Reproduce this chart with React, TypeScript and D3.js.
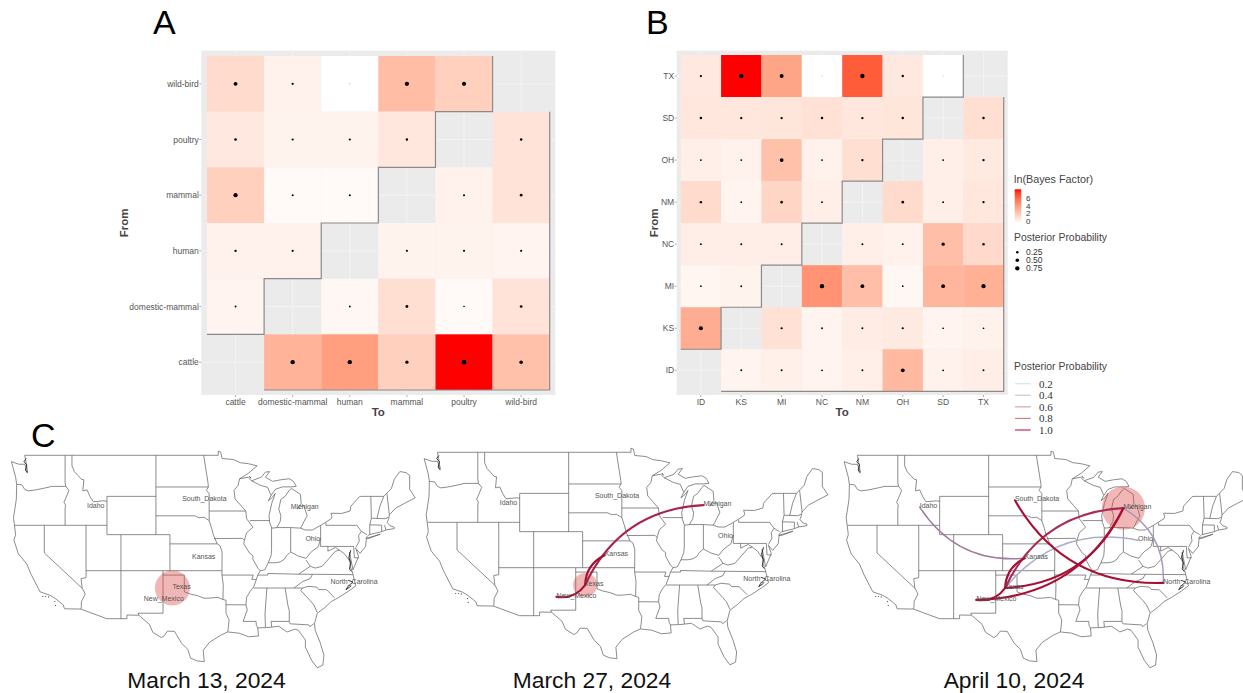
import React from 'react';
import * as d3 from 'd3';

// panel A
const hostLabels = ['cattle', 'domestic-mammal', 'human', 'mammal', 'poultry', 'wild-bird'];
const hostRows = ['wild-bird', 'poultry', 'mammal', 'human', 'domestic-mammal', 'cattle'];
const hostBF = [
  [1.33, 0.5, 0, 2.45, 1.75, null],
  [0.85, 0.45, 0.45, 0.9, null, 1.05],
  [1.75, 0.2, 0.2, null, 0.5, 1.05],
  [0.5, 0.5, null, 0.45, 0.45, 0.4],
  [0.4, null, 0.3, 1.2, 0.2, 1.05],
  [null, 2.8, 3.5, 1.75, 7, 2.3],
];
const hostProb = [
  [0.6, 0.2, 0.02, 0.75, 0.68, null],
  [0.27, 0.2, 0.2, 0.22, null, 0.25],
  [0.72, 0.16, 0.16, null, 0.17, 0.3],
  [0.22, 0.2, null, 0.18, 0.18, 0.18],
  [0.14, null, 0.13, 0.32, 0.1, 0.3],
  [null, 0.75, 0.75, 0.42, 0.9, 0.5],
];

// panel B
const stateLabels = ['ID', 'KS', 'MI', 'NC', 'NM', 'OH', 'SD', 'TX'];
const stateRows = ['TX', 'SD', 'OH', 'NM', 'NC', 'MI', 'KS', 'ID'];
const stateBF = [
  [0.85, 7, 3.3, 0, 5.6, 0.85, 0, null],
  [0.9, 0.9, 0.95, 1.1, 0.9, 0.95, null, 1.2],
  [0.6, 0.5, 2.3, 0.5, 1.2, null, 0.6, 0.8],
  [1.35, 0.4, 1.55, 0.6, null, 1.35, 0.6, 0.9],
  [0.65, 0.65, 0.65, null, 0.6, 0.5, 2.4, 1.4],
  [0.35, 0.45, null, 3.9, 2.4, 0.3, 2.7, 2.9],
  [3, null, 1.1, 0.4, 0.7, 0.8, 0.4, 0.5],
  [null, 0.4, 0.55, 0.4, 0.6, 2.6, 0.5, 0.65],
];
const stateProb = [
  [0.2, 0.8, 0.62, 0.02, 0.75, 0.22, 0.02, null],
  [0.24, 0.22, 0.22, 0.24, 0.22, 0.24, null, 0.24],
  [0.14, 0.14, 0.58, 0.14, 0.22, null, 0.14, 0.22],
  [0.24, 0.12, 0.26, 0.14, null, 0.28, 0.14, 0.2],
  [0.14, 0.15, 0.15, null, 0.15, 0.14, 0.42, 0.24],
  [0.12, 0.14, null, 0.75, 0.58, 0.12, 0.58, 0.72],
  [0.68, null, 0.2, 0.13, 0.15, 0.2, 0.12, 0.12],
  [null, 0.15, 0.16, 0.13, 0.15, 0.58, 0.13, 0.14],
];

// legends
const bfTicks = [0, 2, 4, 6];
const probTicks = [0.25, 0.5, 0.75];
const lineTicks = [0.2, 0.4, 0.6, 0.8, 1.0];

// panel C: lon/lat of the state label points
const places = {
  Idaho: [-113.9, 43.9],
  South_Dakota: [-100.3, 44.6],
  Michigan: [-84.8, 43.8],
  Ohio: [-82.7, 40.4],
  Kansas: [-98.9, 38.4],
  Texas: [-101.7, 35.0],
  New_Mexico: [-105.8, 33.6],
  North_Carolina: [-79.1, 35.6],
};
const dates = ['March 13, 2024', 'March 27, 2024', 'April 10, 2024'];
const hotspots = [
  { state: 'Texas', size: 34 },
  { state: 'Texas', size: 16 },
  { state: 'Michigan', size: 52 },
];
const edges = [
  [],
  [['Michigan', 'Texas', 0.9], ['Kansas', 'Texas', 1], ['New_Mexico', 'Texas', 1]],
  [
    ['Idaho', 'Kansas', 0.6],
    ['Ohio', 'Texas', 0.4],
    ['North_Carolina', 'Michigan', 0.5],
    ['Michigan', 'Texas', 0.85],
    ['South_Dakota', 'North_Carolina', 1],
    ['New_Mexico', 'Michigan', 1],
    ['Texas', 'Michigan', 1],
    ['New_Mexico', 'Texas', 1],
    ['Kansas', 'Texas', 1],
  ],
];

// outline and state lines, lon/lat
const usOutline = [
  [-124.7, 48.4], [-123.6, 48.15], [-122.8, 48.15], [-122.4, 47.4], [-122.6, 48.3], [-122.8, 49], [-95.15, 49], [-95.15, 49.38],
  [-94.8, 49.3], [-94.6, 48.7], [-93, 48.6], [-92, 48.3], [-90.8, 48.2], [-89.6, 48], [-90.8, 47.3], [-92.1, 46.75],
  [-90.9, 46.9], [-90.4, 46.55], [-89, 46.9], [-88.4, 47.4], [-87.8, 47.45], [-88.4, 46.9], [-87.4, 46.5], [-86.2, 46.65],
  [-85, 46.75], [-84.4, 46.5], [-84, 46], [-84.7, 45.95], [-86, 45.95], [-87, 45.7], [-87.6, 45.1], [-88, 44.55],
  [-87.4, 44.9], [-87, 45.3], [-87.5, 44.3], [-87.9, 43], [-87.8, 42.3], [-87.5, 41.7], [-86.8, 41.75], [-86.3, 42.4],
  [-86.2, 43], [-86.5, 43.7], [-86.2, 44.7], [-85.6, 45], [-85, 45.6], [-84.7, 45.8], [-83.4, 45.2], [-83.3, 44.3],
  [-83.9, 43.7], [-83.4, 43.95], [-82.9, 44.05], [-82.45, 43], [-82.9, 42.4], [-83.15, 42], [-83.4, 41.7], [-82.7, 41.5],
  [-81.7, 41.5], [-80.5, 42], [-79, 42.7], [-78.9, 42.9], [-79.05, 43.27], [-77.5, 43.25], [-76.3, 43.5], [-76.2, 44],
  [-75, 44.95], [-74.7, 45], [-71.5, 45], [-71.1, 45.3], [-70.4, 45.8], [-70, 46.7], [-69.2, 47.45], [-68.3, 47.35],
  [-67.8, 47.07], [-67.8, 45.7], [-67, 44.85], [-68.5, 44.3], [-69.8, 43.8], [-70.7, 43.1], [-70.8, 42.7], [-71, 42.3],
  [-70.6, 41.95], [-70, 41.8], [-70, 41.65], [-71.2, 41.5], [-71.9, 41.3], [-73.6, 41], [-74, 40.7], [-74, 40.4],
  [-74.1, 39.7], [-74.9, 38.95], [-75.5, 39.5], [-75.1, 38.6], [-75.9, 37.1], [-76.4, 39.1], [-76.3, 37.5], [-76, 36.9],
  [-75.5, 35.25], [-76.5, 34.65], [-77.9, 33.9], [-79, 33.4], [-79.9, 32.7], [-81, 32], [-81.4, 30.7], [-81.3, 29.9],
  [-80.6, 28.4], [-80.05, 26.8], [-80.2, 25.5], [-81, 25.15], [-81.8, 26.1], [-82.7, 27.8], [-82.7, 28.7], [-83.7, 29.9],
  [-84.2, 30.05], [-85.3, 29.7], [-86.5, 30.4], [-88, 30.25], [-89.5, 30.2], [-89.4, 29.2], [-90.8, 29.1], [-92.2, 29.55],
  [-93.8, 29.7], [-94.8, 29.3], [-96.4, 28.4], [-97.3, 27.4], [-97.15, 25.95], [-98.2, 26.05], [-99.1, 26.4], [-99.5, 27.5],
  [-100.4, 28.3], [-101.4, 29.77], [-102.4, 29.8], [-102.9, 29.2], [-103.3, 29], [-104.5, 29.65], [-105, 30.65], [-106.5, 31.75],
  [-108.2, 31.78], [-108.2, 31.33], [-111.07, 31.33], [-114.8, 32.5], [-117.12, 32.53], [-117.3, 33], [-118.4, 33.75], [-119.2, 34.15],
  [-120.6, 34.55], [-121.9, 36.6], [-122.5, 37.75], [-123.7, 38.9], [-124.35, 40.4], [-124.1, 41], [-124.4, 42.8], [-124, 44.7],
  [-123.95, 46.2], [-124.1, 46.9], [-124.7, 48.4],
];
const stateLines = [
  [[-123.95, 46.2], [-123.2, 46.15], [-122.8, 45.7], [-122.3, 45.55], [-121.2, 45.65], [-119.3, 45.93], [-119, 46], [-116.92, 46]],
  [[-117.03, 49], [-117.03, 46.4], [-116.92, 46], [-116.48, 45.6], [-116.85, 44.95], [-117.2, 44.4], [-116.95, 44.1], [-117.03, 43.8], [-117.03, 42]],
  [[-124.2, 42], [-111.05, 42]],
  [[-116.05, 49], [-116.05, 48], [-115.7, 47.45], [-114.7, 46.7], [-114.35, 46.65], [-114.5, 45.55], [-113.9, 45.65], [-113.45, 44.95], [-113, 44.45], [-111.5, 44.55], [-111.05, 44.5]],
  [[-111.05, 45], [-104.05, 45]],
  [[-111.05, 45], [-111.05, 41], [-102.05, 41], [-102.05, 37]],
  [[-104.05, 49], [-104.05, 41]],
  [[-104.05, 45.94], [-96.56, 45.94]],
  [[-104.05, 43], [-98.5, 43], [-97.9, 42.8], [-97.2, 42.85], [-96.45, 42.5]],
  [[-102.05, 40], [-95.3, 40]],
  [[-114.04, 42], [-114.04, 36.2], [-114.75, 36.1], [-114.6, 35], [-114.15, 34.3], [-114.7, 33.4], [-114.72, 32.72], [-114.8, 32.5]],
  [[-109.05, 41], [-109.05, 31.33]],
  [[-114.04, 37], [-94.62, 37]],
  [[-103.04, 37], [-103.04, 32], [-106.6, 32], [-106.5, 31.75]],
  [[-103.04, 36.5], [-100, 36.5], [-100, 34.56], [-99.2, 34.3], [-98.1, 34.1], [-97.2, 33.8], [-96.5, 33.8], [-95.2, 33.9], [-94.48, 33.64]],
  [[-120, 42], [-120, 39], [-114.63, 35]],
  [[-95.3, 40], [-94.9, 39.8], [-94.6, 39.1], [-94.62, 36.5], [-94.43, 35.4], [-94.48, 33.64], [-94.04, 33.55], [-94.04, 32], [-93.6, 31.2], [-93.7, 30.3], [-93.8, 29.7]],
  [[-96.45, 42.5], [-96.1, 41.7], [-95.85, 41], [-95.3, 40]],
  [[-95.77, 40.58], [-91.7, 40.6], [-91.42, 40.38]],
  [[-97.23, 49], [-96.6, 46.3], [-96.56, 45.94], [-96.85, 45.6], [-96.45, 45.3], [-96.45, 42.5]],
  [[-96.45, 43.5], [-91.22, 43.5]],
  [[-92.1, 46.75], [-92.3, 46.1], [-92.9, 45.6], [-92.75, 44.75], [-91.22, 43.5], [-91.1, 42.7], [-90.2, 41.8], [-91.1, 41.2], [-91.42, 40.38], [-91.5, 40], [-90.7, 39], [-90.2, 38.7], [-90.2, 38.3], [-89.5, 37.3], [-89.15, 37], [-89.5, 36.5], [-89.7, 36], [-90.1, 35.1], [-90.6, 34.6], [-91.1, 33.9], [-91.2, 33], [-91, 32.4], [-91.6, 31], [-89.75, 31], [-89.7, 30.5], [-89.5, 30.2]],
  [[-94.04, 33.02], [-91.2, 33]],
  [[-94.62, 36.5], [-90.15, 36.5], [-90.35, 36], [-89.7, 36]],
  [[-90.64, 42.5], [-87.8, 42.5]],
  [[-87.53, 41.7], [-87.53, 39.35], [-87.6, 38.7], [-88, 37.9]],
  [[-89.15, 37], [-88.5, 37.1], [-88, 37.9], [-87, 37.9], [-86.3, 38], [-85.7, 38.3], [-85.4, 38.7], [-84.8, 39.1], [-84.3, 38.9], [-83.7, 38.65], [-82.6, 38.4], [-82, 39], [-81.7, 39.2], [-80.85, 39.7], [-80.52, 40.64], [-80.52, 42]],
  [[-84.8, 39.1], [-84.8, 41.76]],
  [[-86.8, 41.76], [-84.8, 41.76], [-83.4, 41.7]],
  [[-79.76, 42.27], [-79.76, 42], [-75.35, 42], [-74.7, 41.36], [-75.1, 40.9], [-75, 40.3], [-75.5, 39.6]],
  [[-80.52, 40.64], [-80.52, 39.72], [-75.8, 39.72], [-75.7, 38.46], [-75.05, 38.45]],
  [[-90.4, 46.55], [-89.1, 46.1], [-88.1, 45.9], [-87.6, 45.1]],
  [[-89.5, 36.5], [-88.07, 36.5], [-88.07, 36.68], [-83.68, 36.6], [-81.68, 36.59], [-75.9, 36.55]],
  [[-83.68, 36.6], [-82, 37.5], [-82.6, 38.2]],
  [[-82, 37.5], [-81.3, 37.3], [-80.3, 37.5], [-79.3, 38.4], [-78.4, 39.2], [-77.8, 39.3], [-77.05, 38.85], [-76.3, 38]],
  [[-79.48, 39.72], [-79.48, 39.2], [-78.4, 39.6], [-77.8, 39.3]],
  [[-74.7, 41.36], [-73.9, 41]],
  [[-73.5, 41], [-73.5, 42.05], [-73.27, 42.75], [-73.35, 45]],
  [[-73.5, 42.05], [-71.8, 42.02], [-71.8, 41.35]],
  [[-71.38, 42.02], [-71.2, 41.5]],
  [[-73.27, 42.75], [-71.3, 42.7], [-70.8, 42.85]],
  [[-72.46, 42.73], [-72.05, 44], [-71.5, 45]],
  [[-70.7, 43.1], [-71.05, 45.3]],
  [[-90.1, 35], [-83.1, 35]],
  [[-81.68, 36.59], [-82, 36.1], [-83.1, 35.75], [-84.32, 34.99]],
  [[-83.1, 35], [-82.3, 35.2], [-81.05, 35.1], [-80.8, 34.82], [-79.67, 34.8], [-78.55, 33.85]],
  [[-83.1, 35], [-83.35, 34.7], [-82, 33.5], [-81.5, 33], [-81, 32.1]],
  [[-85.6, 35], [-85.18, 32.87], [-85, 32.3], [-85, 31], [-84.86, 30.7], [-82.2, 30.57], [-82.05, 30.35], [-81.5, 30.73]],
  [[-85, 31], [-87.6, 31], [-87.5, 30.3]],
  [[-88.2, 35], [-88.47, 31.9], [-88.4, 30.3]],
  [[-74, 40.6], [-72, 41.05], [-73.6, 40.6], [-74, 40.6]],
];
// the darker, busy bits of coast
const coastDetail = [
  [[-122.6, 48.7], [-122.9, 48.4], [-122.5, 48.1], [-122.7, 47.6], [-122.4, 47.3]],
  [[-76.2, 39.3], [-76.5, 38.5], [-76.2, 37.9], [-76.4, 37.2], [-76.1, 36.9]],
  [[-76.6, 35.9], [-75.9, 35.7], [-76.6, 35.2], [-76.9, 34.8], [-76.2, 35.2]],
  [[-90.7, 47], [-90.5, 46.8]],
];
const islands = [[-119.8, 34], [-118.5, 33.4], [-118.4, 32.95], [-120.2, 34], [-119.4, 33.95]];

// layout
const tile = d3.interpolateLab('#ffffff', '#ff0000');
const fillScale = d3.scaleSequential(tile).domain([0, 7]);
const sizeScale = d3.scaleSqrt().domain([0, 1]).range([0, 2.5]);
const bubbleScale = d3.scaleSqrt().domain([0, 100]).range([0, 30]);
const lineColor = d3.scaleLinear<string>()
  .domain([0.2, 0.4, 0.6, 0.8, 1.0])
  .range(['#cfe6f0', '#aeaccb', '#a07f9e', '#a83560', '#a90f35']);
const legendLine = d3.scaleLinear<string>()
  .domain([0.2, 0.4, 0.6, 0.8, 1.0])
  .range(['#cfe8f2', '#c9c6d8', '#d2a6b6', '#d67a93', '#cc2f50']);
const dateX = d3.scaleOrdinal<string, number>().domain(dates).range([206.5, 592, 1014]);
const sans = '"Liberation Sans", Arial, sans-serif';

function Heatmap({ cols, rows, bf, prob, panel, xRange, yRange, fromX }) {
  const x = d3.scaleBand().domain(cols).range(xRange);
  const y = d3.scaleBand().domain(rows).range(yRange);
  const bw = x.bandwidth();
  const bh = y.bandwidth();
  const n = cols.length;

  // stair-step frame round the empty diagonal
  const upper = d3.path();
  rows.slice(0, n - 1).forEach((r, i) => {
    const c = n - 1 - i;
    if (i === 0) upper.moveTo(x(cols[c]), y(r));
    upper.lineTo(x(cols[c]), y(r) + bh);
    upper.lineTo(x(cols[c - 1]), y(r) + bh);
  });
  const lower = d3.path();
  lower.moveTo(x(cols[1]), y(rows[n - 1]) + bh);
  lower.lineTo(xRange[1], y(rows[n - 1]) + bh);
  lower.lineTo(xRange[1], y(rows[1]));

  const midX = (panel[0] + panel[2]) / 2;
  const midY = (panel[1] + panel[3]) / 2;

  return (
    <g fontFamily={sans}>
      <rect x={panel[0]} y={panel[1]} width={panel[2] - panel[0]} height={panel[3] - panel[1]} fill="#ebebeb" />
      {cols.map(c => (
        <line key={c} x1={x(c) + bw / 2} x2={x(c) + bw / 2} y1={panel[1]} y2={panel[3]} stroke="#f6f6f6" strokeWidth={0.7} />
      ))}
      {rows.map(r => (
        <line key={r} x1={panel[0]} x2={panel[2]} y1={y(r) + bh / 2} y2={y(r) + bh / 2} stroke="#f6f6f6" strokeWidth={0.7} />
      ))}
      {rows.map((r, i) => cols.map((c, j) => bf[i][j] === null ? null : (
        <rect key={r + c} x={x(c)} y={y(r)} width={bw} height={bh} fill={fillScale(bf[i][j])} />
      )))}
      <path d={upper.toString()} fill="none" stroke="#8a8a8a" strokeWidth={1.2} />
      <path d={lower.toString()} fill="none" stroke="#8a8a8a" strokeWidth={1.2} />
      {rows.map((r, i) => cols.map((c, j) => prob[i][j] === null ? null : (
        <circle key={r + c} cx={x(c) + bw / 2} cy={y(r) + bh / 2} r={sizeScale(prob[i][j])} fill="#000" />
      )))}
      {cols.map(c => (
        <g key={c}>
          <line x1={x(c) + bw / 2} x2={x(c) + bw / 2} y1={panel[3]} y2={panel[3] + 2} stroke="#777" strokeWidth={0.6} />
          <text x={x(c) + bw / 2} y={panel[3] + 9.5} textAnchor="middle" fontSize={8.5} fill="#555">{c}</text>
        </g>
      ))}
      {rows.map(r => (
        <g key={r}>
          <line x1={panel[0] - 2} x2={panel[0]} y1={y(r) + bh / 2} y2={y(r) + bh / 2} stroke="#777" strokeWidth={0.6} />
          <text x={panel[0] - 2.5} y={y(r) + bh / 2 + 3} textAnchor="end" fontSize={8.5} fill="#555">{r}</text>
        </g>
      ))}
      <text x={midX} y={415.5} textAnchor="middle" fontSize={11.5} fontWeight="bold" fill="#444">To</text>
      <text transform={`translate(${fromX}, ${midY}) rotate(-90)`} textAnchor="middle" fontSize={11.5} fontWeight="bold" fill="#444">From</text>
    </g>
  );
}

function UsMap({ index, dx, dy }) {
  const projection = d3.geoMercator().scale(401).center([-103, 37]).translate([163.3 + dx, 570.7 + dy]);
  const line = d3.line().x(d => projection(d)[0]).y(d => projection(d)[1]);
  const spot = hotspots[index];
  const spotXY = projection(places[spot.state]);

  // curved edge, bowing to the left of the from->to direction on screen
  const curve = ([from, to]) => {
    const a = projection(places[from]);
    const b = projection(places[to]);
    const p = d3.path();
    p.moveTo(a[0], a[1]);
    p.quadraticCurveTo(
      (a[0] + b[0]) / 2 - (b[1] - a[1]) * 0.3,
      (a[1] + b[1]) / 2 + (b[0] - a[0]) * 0.3,
      b[0], b[1]
    );
    return p.toString();
  };

  return (
    <g fontFamily={sans}>
      <path d={line(usOutline)} fill="none" stroke="#666" strokeWidth={0.75} />
      {stateLines.map((s, i) => <path key={i} d={line(s)} fill="none" stroke="#666" strokeWidth={0.75} />)}
      {coastDetail.map((s, i) => <path key={i} d={line(s)} fill="none" stroke="#222" strokeWidth={0.9} />)}
      {islands.map((s, i) => <circle key={i} cx={projection(s)[0]} cy={projection(s)[1]} r={0.6} fill="#444" />)}
      <circle cx={spotXY[0]} cy={spotXY[1]} r={bubbleScale(spot.size)} fill="#dc4a4a" fillOpacity={0.4} />
      {edges[index].map((e, i) => (
        <path key={i} d={curve(e)} fill="none" stroke={lineColor(e[2])} strokeWidth={e[2] > 0.7 ? 2.1 : 1.5} strokeLinecap="round" />
      ))}
      {Object.keys(places).map(k => (
        <text key={k} x={projection(places[k])[0]} y={projection(places[k])[1] + 0.8} fontSize={7} fill="#555">{k}</text>
      ))}
    </g>
  );
}

function Legends() {
  const barScale = d3.scaleLinear().domain([0, 8]).range([221, 191]);
  const probY = d3.scalePoint().domain(probTicks).range([252.3, 268.3]);
  const lineY = d3.scalePoint().domain(lineTicks).range([383.7, 430]);
  return (
    <g fontFamily={sans}>
      <defs>
        <linearGradient id="bf" x1="0" x2="0" y1="1" y2="0">
          {d3.range(0, 1.01, 0.1).map(t => <stop key={t} offset={t} stopColor={tile(t)} />)}
        </linearGradient>
      </defs>
      <text x={1014} y={183} fontSize={10.8} fill="#444">ln(Bayes Factor)</text>
      <rect x={1014.7} y={189.3} width={6.5} height={34} fill="url(#bf)" />
      {bfTicks.map(t => <text key={t} x={1026} y={barScale(t) + 2.5} fontSize={8} fill="#333">{t}</text>)}
      <text x={1014} y={241} fontSize={10.4} fill="#444">Posterior Probability</text>
      {probTicks.map(t => (
        <g key={t}>
          <circle cx={1017.3} cy={probY(t)} r={sizeScale(t)} fill="#000" />
          <text x={1026} y={probY(t) + 3} fontSize={8.5} fill="#333">{t.toFixed(2)}</text>
        </g>
      ))}
      <text x={1014} y={370} fontSize={10.4} fill="#444">Posterior Probability</text>
      {lineTicks.map(t => (
        <g key={t}>
          <line x1={1015} x2={1030.7} y1={lineY(t)} y2={lineY(t)} stroke={legendLine(t)} strokeWidth={1.2} />
          <text x={1039} y={lineY(t) + 3.8} fontSize={11} fontFamily='"Liberation Serif", serif' fill="#333">{t.toFixed(1)}</text>
        </g>
      ))}
    </g>
  );
}

export default function App() {
  const letter = { fontFamily: sans, fontSize: 34, fill: '#000' };
  return (
    <svg width={1243} height={693} style={{ position: 'absolute', left: 0, top: 0, display: 'block', background: '#fff' }}>
      <text x={153} y={34} {...letter}>A</text>
      <text x={646} y={34} {...letter}>B</text>
      <text x={31} y={447} {...letter}>C</text>

      <Heatmap cols={hostLabels} rows={hostRows} bf={hostBF} prob={hostProb}
        panel={[201.3, 50.7, 555.3, 395]} xRange={[207, 549.7]} yRange={[56, 390]} fromX={128} />
      <Heatmap cols={stateLabels} rows={stateRows} bf={stateBF} prob={stateProb}
        panel={[676.7, 50.7, 1007.7, 395]} xRange={[680.7, 1003.7]} yRange={[55, 391.3]} fromX={658} />
      <Legends />

      <UsMap index={0} dx={0} dy={0} />
      <UsMap index={1} dx={412.7} dy={-3} />
      <UsMap index={2} dx={832.7} dy={0} />

      {dates.map(d => (
        <text key={d} x={dateX(d)} y={688} textAnchor="middle" fontFamily={sans} fontSize={22.8} fill="#111">{d}</text>
      ))}
    </svg>
  );
}
